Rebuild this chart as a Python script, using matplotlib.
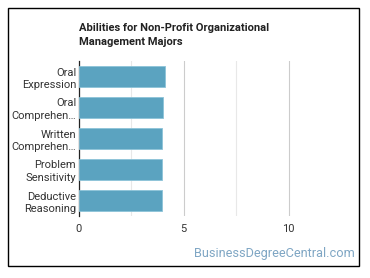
import matplotlib.pyplot as plt
from matplotlib.patches import Rectangle

plt.rcParams['font.family'] = ['Roboto', 'DejaVu Sans']

labels = ["Oral\nExpression", "Oral\nComprehen…", "Written\nComprehen…",
          "Problem\nSensitivity", "Deductive\nReasoning"]
values = [4.1, 4.0, 3.95, 3.95, 3.95]
title = "Abilities for Non-Profit Organizational\nManagement Majors"

fig = plt.figure(figsize=(3.7, 2.78), dpi=100)
ax = fig.add_axes([79 / 370, 1 - 216 / 278, (341 - 79) / 370, (216 - 61) / 278])

y = list(range(len(labels)))
ax.barh(y, values, height=0.65, color="#5ba3c0", edgecolor="#8cc3d8", linewidth=0.6, zorder=3)
ax.set_ylim(len(labels) - 0.5, -0.5)
ax.set_xlim(0, 12.5)
ax.set_yticks(y)
ax.set_yticklabels(labels, fontsize=8, color="#333333", linespacing=1.3)
ax.set_xticks([0, 5, 10])
ax.set_xticks([2.5, 7.5], minor=True)
ax.tick_params(axis="x", which="both", length=0, labelsize=8, labelcolor="#333333", pad=6)
ax.tick_params(axis="y", length=0, pad=2)
ax.grid(axis="x", which="major", color="#cccccc", linewidth=0.8, zorder=0)
ax.grid(axis="x", which="minor", color="#e8e8e8", linewidth=0.8, zorder=0)
for s in ["top", "right", "bottom"]:
    ax.spines[s].set_visible(False)
ax.spines["left"].set_color("#222222")
ax.spines["left"].set_linewidth(0.9)

fig.text(79 / 370, 1 - 23 / 278, title, fontsize=8, fontweight="bold",
         color="#222222", va="top", ha="left", linespacing=1.45)
fig.text(355 / 370, 1 - 254 / 278, "BusinessDegreeCentral.com", fontsize=9.2,
         color="#7fa6c4", ha="right", va="center")

fig.patches.append(Rectangle((8 / 370, 1 - 266 / 278), 351 / 370, 258 / 278,
                             transform=fig.transFigure, fill=False,
                             edgecolor="black", linewidth=1.0))

fig.savefig("out.png", dpi=100)
